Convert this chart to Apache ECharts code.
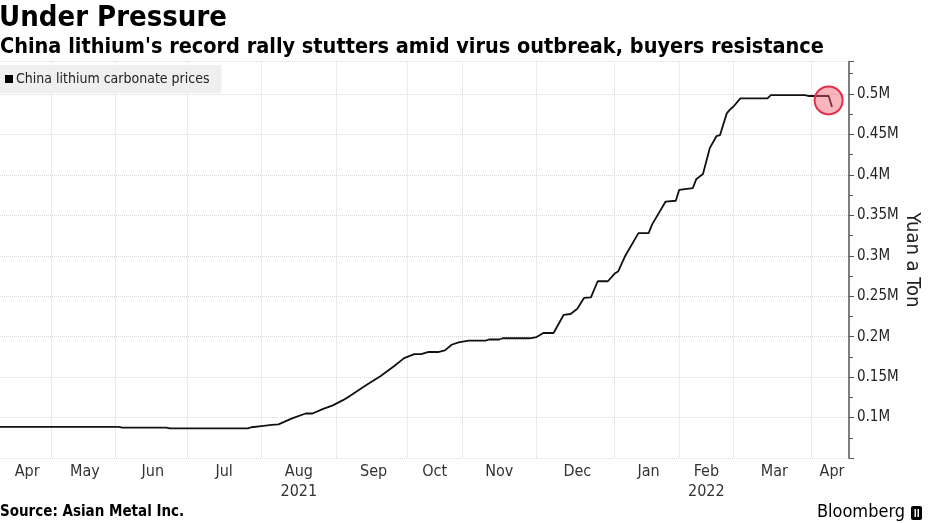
<!DOCTYPE html>
<html><head><meta charset="utf-8">
<script src="https://cdn.jsdelivr.net/npm/echarts@6/dist/echarts.min.js"></script>
<style>html,body{margin:0;padding:0;background:#fff}#c{width:930px;height:523px}</style>
</head><body><div id="c"></div>
<script>
const FONT = '"Liberation Sans Narrow","DejaVu Sans Condensed","Roboto Condensed","Arial Narrow","Liberation Sans",sans-serif';

// Trading calendar (categories)
const startDate = '2021-04-12';
const endDate = '2022-04-20';
const holidays = ['2021-05-03','2021-05-04','2021-05-05','2021-06-14','2021-09-20','2021-09-21',
  '2021-10-01','2021-10-04','2021-10-05','2021-10-06','2021-10-07','2022-01-03','2022-01-31',
  '2022-02-01','2022-02-02','2022-02-03','2022-02-04','2022-04-04','2022-04-05'];
const extraTradingDays = ['2021-05-08','2021-09-18'];
const monthNames = ['Jan','Feb','Mar','Apr','May','Jun','Jul','Aug','Sep','Oct','Nov','Dec'];
const yearLabels = {'2021-08':'2021','2022-02':'2022'};

// Series values (yuan a ton)
const seriesName = 'China lithium carbonate prices';
const priceDates = ['2021-04-12','2021-06-02','2021-06-03','2021-06-23','2021-06-24','2021-07-27','2021-07-28',
  '2021-08-02','2021-08-05','2021-08-09','2021-08-13','2021-08-19','2021-08-23','2021-08-26','2021-08-31',
  '2021-09-03','2021-09-07','2021-09-14','2021-09-18','2021-09-27','2021-09-30',
  '2021-10-12','2021-10-14','2021-10-18','2021-10-21','2021-10-25','2021-10-27','2021-10-29',
  '2021-11-03','2021-11-10','2021-11-11','2021-11-16','2021-11-17','2021-11-29',
  '2021-12-01','2021-12-03','2021-12-08','2021-12-13','2021-12-15','2021-12-17','2021-12-21','2021-12-23','2021-12-27','2021-12-30',
  '2022-01-04','2022-01-05','2022-01-07','2022-01-13','2022-01-18','2022-01-19','2022-01-25','2022-01-28',
  '2022-02-07','2022-02-11','2022-02-14','2022-02-16','2022-02-18','2022-02-22','2022-02-23','2022-02-25','2022-02-28',
  '2022-03-01','2022-03-03','2022-03-15','2022-03-16','2022-03-30','2022-03-31',
  '2022-04-12','2022-04-13'];
const priceValues = [88500,88500,87500,87500,86500,86500,88000,
  89500,91000,91500,99000,105000,105000,110500,115000,
  121500,126500,140500,151000,163500,173500,
  178500,178500,181000,181000,183000,190000,193000,
  195000,195000,196500,196500,198000,198000,
  199500,204500,204500,227000,228000,234500,248000,248500,268500,268500,
  278000,280500,299000,328000,328000,338500,367000,368000,
  381500,383500,394500,401000,433000,448000,449000,476000,481000,
  484500,494500,494500,498500,498500,497500,
  497500,484000];
const highlightDate = '2022-04-12';
const highlightValue = 492000;

// Y axis ticks
const yMin = 50000, yMax = 540000, yStep = 50000;

// ---- build categories ----
function fmt(d){return d.toISOString().slice(0,10);}
const categories = [];
{
  let d = new Date(startDate + 'T00:00:00Z');
  const end = new Date(endDate + 'T00:00:00Z');
  while (d <= end) {
    const s = fmt(d), wd = d.getUTCDay();
    if ((wd >= 1 && wd <= 5 && holidays.indexOf(s) < 0) || extraTradingDays.indexOf(s) >= 0) categories.push(s);
    d = new Date(d.getTime() + 86400000);
  }
}
const monthStarts = new Set();
const labelIdx = {};
{
  const firsts = [];
  categories.forEach((c,i)=>{ if (i===0 || c.slice(0,7)!==categories[i-1].slice(0,7)) { firsts.push(i); if (i>0) monthStarts.add(i);} });
  firsts.forEach((s,k)=>{
    const e = k+1 < firsts.length ? firsts[k+1] : categories.length;
    labelIdx[Math.round((s+e)/2)] = categories[s].slice(0,7);
  });
}

const chart = echarts.init(document.getElementById('c'), null, {renderer:'canvas'});
chart.setOption({
  animation: false,
  backgroundColor: '#fff',
  title: [
    {text:'Under Pressure', left:-1, top:4, padding:0,
      textStyle:{fontFamily:FONT, fontSize:29, fontWeight:'bold', color:'#000'}},
    {text:"China lithium's record rally stutters amid virus outbreak, buyers resistance", left:0, top:36, padding:0,
      textStyle:{fontFamily:FONT, fontSize:21.5, fontWeight:'bold', color:'#000'}}
  ],
  legend: {
    data:[seriesName], left:0, top:65, orient:'horizontal',
    backgroundColor:'#efefef', padding:[7,12,7,5], icon:'rect', itemWidth:8, itemHeight:8, itemGap:4,
    textStyle:{fontFamily:FONT, fontSize:14, color:'#222', padding:[0,0,0,-2]}
  },
  grid: {left:0, right:81, top:61.6, bottom:65, containLabel:false, outerBoundsMode:'none'},
  xAxis: {
    type:'category', data:categories, boundaryGap:false,
    axisLine:{show:false}, axisTick:{show:false},
    axisLabel:{
      interval:(i)=> labelIdx[i] !== undefined,
      formatter:(v,i)=>{ const ym = labelIdx[i] || v.slice(0,7); const m = monthNames[+ym.slice(5,7)-1];
        return yearLabels[ym] ? m + '\n' + yearLabels[ym] : m; },
      fontFamily:FONT, fontSize:16, color:'#333', margin:4, lineHeight:20
    },
    splitLine:{show:true, interval:(i)=> monthStarts.has(i), lineStyle:{color:'#d8d8d8', type:'dotted', width:1}}
  },
  yAxis: {
    type:'value', position:'right', min:yMin, max:yMax, interval:yStep,
    name:'Yuan a Ton', nameLocation:'middle', nameRotate:-90, nameGap:53, nameMoveOverlap:false,
    nameTextStyle:{fontFamily:FONT, fontSize:20, color:'#222'},
    axisLine:{show:true, lineStyle:{color:'#555', width:1.5}},
    axisTick:{show:true, length:5, lineStyle:{color:'#555'}},
    minorTick:{show:true, splitNumber:2, length:4, lineStyle:{color:'#555'}},
    axisLabel:{showMinLabel:false, showMaxLabel:false, margin:8,
      formatter:(v)=> (v/1e6) + 'M', fontFamily:FONT, fontSize:15, color:'#222'},
    splitLine:{show:true, lineStyle:{color:'#d8d8d8', type:'dotted', width:1}}
  },
  series: [{
    name: seriesName, type:'line', showSymbol:false, smooth:false,
    data: priceDates.map((d,i)=>[categories.indexOf(d), priceValues[i]]),
    lineStyle:{color:'#111', width:1.8}, itemStyle:{color:'#000'},
    markPoint:{
      symbol:'circle', symbolSize:28, silent:true,
      label:{show:false},
      itemStyle:{color:'rgba(240,90,110,0.45)', borderColor:'#e0304c', borderWidth:2},
      data:[{coord:[categories.indexOf(highlightDate), highlightValue]}]
    }
  }],
  graphic: [
    {type:'text', left:0, top:505, style:{text:'Source: Asian Metal Inc.', font:'bold 15px ' + FONT, fill:'#000'}},
    {type:'text', right:25, top:503, style:{text:'Bloomberg', font:'18px ' + FONT, fill:'#000'}},
    {type:'rect', right:8, top:506, shape:{width:11, height:14, r:2}, style:{fill:'#000'}},
    {type:'rect', right:14, top:509, shape:{width:1.5, height:8}, style:{fill:'#fff'}},
    {type:'rect', right:11, top:509, shape:{width:1.5, height:8}, style:{fill:'#fff'}}
  ]
});
</script>
</body></html>
